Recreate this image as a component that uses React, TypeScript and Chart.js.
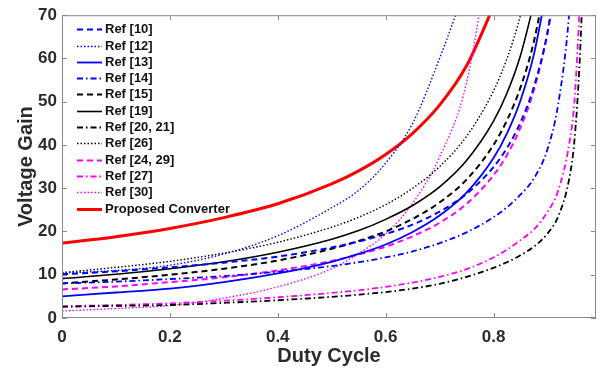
import React, { useEffect, useRef } from "react";
import { Chart, registerables } from "chart.js";
Chart.register(...registerables);

// Duty cycle sample points (x axis)
const duty = [0, 0.1, 0.2, 0.3, 0.4, 0.5, 0.55, 0.6, 0.65, 0.7, 0.75, 0.8, 0.825, 0.85, 0.875, 0.9, 0.92, 0.94, 0.95, 0.96, 0.97];

// Voltage gain values (null = beyond plot)
const ref10 = [10.1, 10.8, 11.7, 12.8, 14.2, 16.3, 17.7, 19.4, 21.6, 24.6, 28.7, 34.9, 39.3, 45.2, 53.5, 65.9, 81.4, null, null, null, null];
const ref12 = [10.4, 11.0, 12.2, 14.8, 19.0, 25.5, 29.5, 35.8, 45.0, 60.0, 77.0, null, null, null, null, null, null, null, null, null, null];
const ref13 = [5.0, 5.9, 6.8, 8.3, 10.3, 13.0, 14.8, 17.0, 19.9, 23.7, 29.0, 37.0, 42.7, 50.3, 61.0, 77.0, null, null, null, null, null];
const ref14 = [8.0, 8.4, 9.0, 9.7, 10.7, 12.0, 12.9, 14.0, 15.4, 17.3, 19.8, 23.3, 25.6, 28.5, 32.3, 39.0, 49.5, 70.0, 90.0, null, null];
const ref15 = [8.0, 8.9, 10.0, 11.4, 13.3, 16.0, 17.8, 20.0, 22.9, 26.7, 32.0, 40.0, 45.7, 53.3, 64.0, 80.0, null, null, null, null, null];
const ref19 = [9.1, 10.1, 11.4, 13.0, 15.2, 18.2, 20.2, 22.8, 26.0, 30.3, 36.4, 45.5, 52.0, 60.7, 72.8, null, null, null, null, null, null];
const ref2021 = [2.6, 2.8, 3.0, 3.5, 4.1, 4.9, 5.4, 6.0, 6.8, 7.9, 9.5, 11.6, 12.9, 14.5, 16.5, 19.5, 23.5, 32.0, 41.0, 60.0, 92.0];
const ref26 = [10.5, 11.7, 13.1, 15.0, 17.5, 21.0, 23.3, 26.2, 30.0, 35.0, 42.0, 52.5, 60.0, 70.0, 84.0, null, null, null, null, null, null];
const ref2429 = [6.6, 7.3, 8.3, 9.4, 11.0, 13.2, 14.7, 16.5, 18.9, 22.0, 26.4, 33.0, 37.7, 44.0, 52.8, 66.0, 82.5, null, null, null, null];
const ref27 = [2.7, 3.0, 3.4, 4.0, 4.8, 5.8, 6.4, 7.2, 8.2, 9.5, 11.3, 14.0, 15.8, 18.0, 20.5, 24.5, 29.5, 40.0, 50.0, 72.0, null];
const ref30 = [1.6, 2.2, 2.9, 4.6, 7.2, 11.4, 14.9, 19.4, 26.5, 37.2, 54.4, 91.0, null, null, null, null, null, null, null, null, null];
const proposed = [17.3, 18.8, 20.7, 23.2, 26.4, 31.0, 34.0, 37.8, 42.7, 49.2, 58.3, 72.0, null, null, null, null, null, null, null, null, null];

const xTicks = [0, 0.2, 0.4, 0.6, 0.8];
const yTicks = [0, 10, 20, 30, 40, 50, 60, 70];

const BLUE = "#0000ff";
const BLACK = "#000000";
const MAG = "#ff00ff";
const RED = "#ff0000";
const DASH = [6, 4];
const DOT = [1.5, 2];
const DASHDOT = [6, 3, 1.5, 3];
const FONT = "'Liberation Sans', Arial, Helvetica, sans-serif";

const series = [
  { label: "Ref [10]", values: ref10, color: BLUE, dash: DASH, width: 2 },
  { label: "Ref [12]", values: ref12, color: BLUE, dash: DOT, width: 1.4 },
  { label: "Ref [13]", values: ref13, color: BLUE, dash: [], width: 1.8 },
  { label: "Ref [14]", values: ref14, color: BLUE, dash: DASHDOT, width: 1.8 },
  { label: "Ref [15]", values: ref15, color: BLACK, dash: DASH, width: 2 },
  { label: "Ref [19]", values: ref19, color: BLACK, dash: [], width: 1.6 },
  { label: "Ref [20, 21]", values: ref2021, color: BLACK, dash: DASHDOT, width: 1.8 },
  { label: "Ref [26]", values: ref26, color: BLACK, dash: DOT, width: 1.4 },
  { label: "Ref [24, 29]", values: ref2429, color: MAG, dash: DASH, width: 2 },
  { label: "Ref [27]", values: ref27, color: MAG, dash: DASHDOT, width: 1.8 },
  { label: "Ref [30]", values: ref30, color: MAG, dash: DOT, width: 1.4 },
  { label: "Proposed Converter", values: proposed, color: RED, dash: [], width: 3 },
];

const framePlugin = {
  id: "frameAndLegend",
  afterDatasetsDraw(chart: any) {
    const { ctx, chartArea: a, scales } = chart;
    ctx.save();
    ctx.setLineDash([]);
    ctx.strokeStyle = "#8a8a8a";
    ctx.lineWidth = 1;
    ctx.strokeRect(a.left + 0.5, a.top + 0.5, a.right - a.left - 1, a.bottom - a.top - 1);
    const tl = 5;
    ctx.beginPath();
    scales.x.ticks.forEach((t: any) => {
      const px = Math.round(scales.x.getPixelForValue(t.value)) + 0.5;
      ctx.moveTo(px, a.bottom);
      ctx.lineTo(px, a.bottom - tl);
      ctx.moveTo(px, a.top);
      ctx.lineTo(px, a.top + tl);
    });
    scales.y.ticks.forEach((t: any) => {
      const py = Math.round(scales.y.getPixelForValue(t.value)) + 0.5;
      ctx.moveTo(a.left, py);
      ctx.lineTo(a.left + tl, py);
      ctx.moveTo(a.right, py);
      ctx.lineTo(a.right - tl, py);
    });
    ctx.stroke();

    // legend
    const x0 = a.left + 15;
    const lineLen = 25;
    const rowH = 16.3;
    const y0 = a.top + 14;
    ctx.font = "bold 13px " + FONT;
    ctx.textBaseline = "middle";
    ctx.textAlign = "left";
    chart.data.datasets.forEach((ds: any, i: number) => {
      const y = Math.round(y0 + i * rowH) + 0.5;
      ctx.beginPath();
      ctx.strokeStyle = ds.borderColor;
      ctx.lineWidth = ds.borderWidth;
      ctx.setLineDash(ds.borderDash || []);
      ctx.moveTo(x0, y);
      ctx.lineTo(x0 + lineLen, y);
      ctx.stroke();
      ctx.setLineDash([]);
      ctx.fillStyle = "#111";
      ctx.fillText(ds.label, x0 + lineLen + 3, y);
    });
    ctx.restore();
  },
};

export default function App() {
  const ref = useRef<HTMLCanvasElement>(null);
  useEffect(() => {
    const datasets = series.map((s) => ({
      label: s.label,
      data: duty.map((d, i) => ({ x: d, y: s.values[i] })),
      borderColor: s.color,
      backgroundColor: s.color,
      borderDash: s.dash,
      borderWidth: s.width,
      pointRadius: 0,
      fill: false,
      cubicInterpolationMode: "monotone" as const,
      spanGaps: false,
    }));
    const chart = new Chart(ref.current!, {
      type: "line",
      data: { datasets },
      options: {
        responsive: false,
        animation: false,
        devicePixelRatio: 1,
        layout: { padding: { top: 10, right: 14, left: 0, bottom: 0 } },
        plugins: { legend: { display: false }, tooltip: { enabled: false } },
        scales: {
          x: {
            type: "linear",
            min: 0,
            max: 0.99,
            afterFit: (s: any) => { s.height = 57; },
            afterBuildTicks: (s: any) => { s.ticks = xTicks.map((v) => ({ value: v })); },
            ticks: {
              autoSkip: false,
              maxRotation: 0,
              padding: 9,
              color: "#2b2b2b",
              font: { family: FONT, size: 17, weight: "bold" },
              callback: (v: any) => String(Math.round(Number(v) * 10) / 10),
            },
            grid: { display: false, drawTicks: false },
            border: { display: false },
            title: {
              display: true,
              text: "Duty Cycle",
              color: "#2b2b2b",
              font: { family: FONT, size: 20, weight: "bold" },
              padding: { top: 0, bottom: 7 },
            },
          },
          y: {
            type: "linear",
            min: 0,
            max: 70,
            afterFit: (s: any) => { s.width = 62; },
            afterBuildTicks: (s: any) => { s.ticks = yTicks.map((v) => ({ value: v })); },
            ticks: {
              padding: 5,
              color: "#2b2b2b",
              font: { family: FONT, size: 17, weight: "bold" },
            },
            grid: { display: false, drawTicks: false },
            border: { display: false },
            title: {
              display: true,
              text: "Voltage Gain",
              color: "#2b2b2b",
              font: { family: FONT, size: 20, weight: "bold" },
              padding: { top: 14, bottom: 0 },
            },
          },
        },
      },
      plugins: [framePlugin],
    } as any);
    return () => chart.destroy();
  }, []);
  return (
    <div style={{ position: "fixed", left: 0, top: 0, width: 610, height: 375, background: "#fff" }}>
      <canvas ref={ref} width={610} height={375} style={{ display: "block", width: 610, height: 375 }} />
    </div>
  );
}
